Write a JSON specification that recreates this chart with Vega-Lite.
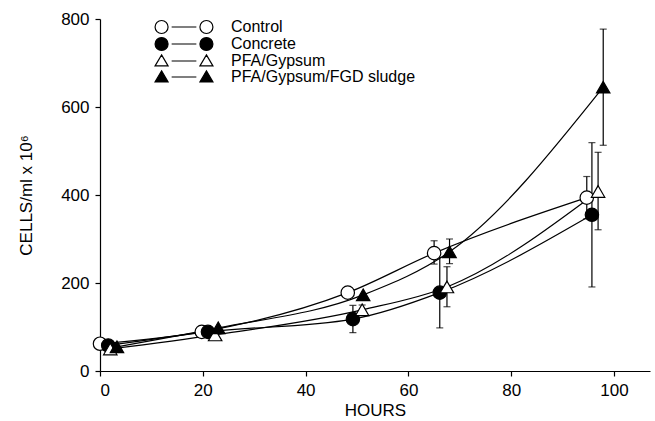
{
  "$schema": "https://vega.github.io/schema/vega-lite/v6.json",
  "width": 550,
  "height": 352,
  "autosize": "none",
  "padding": {"left": 100, "top": 19, "right": 5, "bottom": 50},
  "background": "white",
  "config": {
    "view": {"stroke": null},
    "font": "Liberation Sans",
    "axis": {
      "grid": false,
      "domainColor": "black",
      "tickColor": "black",
      "labelColor": "black",
      "titleColor": "black",
      "labelFont": "Liberation Sans",
      "titleFont": "Liberation Sans",
      "labelFontSize": 17,
      "titleFontSize": 17,
      "titleFontWeight": "normal",
      "tickSize": 5,
      "labelPadding": 6,
      "domainWidth": 1.2,
      "tickWidth": 1.2
    }
  },
  "data": {
    "values": [
      {"series": "Control", "hours": 0, "cells": 62},
      {"series": "Control", "hours": 19.8, "cells": 89},
      {"series": "Control", "hours": 48.2, "cells": 178},
      {"series": "Control", "hours": 65, "cells": 268, "lo": 243, "hi": 296},
      {"series": "Control", "hours": 94.7, "cells": 394, "lo": 346, "hi": 442},
      {"series": "Concrete", "hours": 1.6, "cells": 58},
      {"series": "Concrete", "hours": 21, "cells": 89},
      {"series": "Concrete", "hours": 49.2, "cells": 118, "lo": 87, "hi": 149},
      {"series": "Concrete", "hours": 66.1, "cells": 178, "lo": 98, "hi": 258},
      {"series": "Concrete", "hours": 95.7, "cells": 355, "lo": 191, "hi": 519},
      {"series": "PFA/Gypsum", "hours": 2, "cells": 50},
      {"series": "PFA/Gypsum", "hours": 22.4, "cells": 82},
      {"series": "PFA/Gypsum", "hours": 51, "cells": 139, "lo": 128, "hi": 150},
      {"series": "PFA/Gypsum", "hours": 67.5, "cells": 191, "lo": 146, "hi": 237},
      {"series": "PFA/Gypsum", "hours": 96.9, "cells": 408, "lo": 321, "hi": 497},
      {"series": "PFA/Gypsum/FGD sludge", "hours": 3.3, "cells": 55},
      {"series": "PFA/Gypsum/FGD sludge", "hours": 23, "cells": 98},
      {"series": "PFA/Gypsum/FGD sludge", "hours": 51.2, "cells": 173},
      {"series": "PFA/Gypsum/FGD sludge", "hours": 68, "cells": 271, "lo": 244, "hi": 300},
      {"series": "PFA/Gypsum/FGD sludge", "hours": 97.9, "cells": 645, "lo": 513, "hi": 777}
    ]
  },
  "resolve": {"scale": {"shape": "independent"}},
  "layer": [
    {
      "mark": {"type": "line", "interpolate": "monotone", "color": "black", "strokeWidth": 1.2},
      "encoding": {
        "x": {"field": "hours", "type": "quantitative", "scale": {"domain": [0, 107], "nice": false}, "axis": {"values": [0, 20, 40, 60, 80, 100], "title": "HOURS", "titlePadding": 4}},
        "y": {"field": "cells", "type": "quantitative", "scale": {"domain": [0, 800], "nice": false}, "axis": {"values": [0, 200, 400, 600, 800], "title": "CELLS/ml x 10⁶", "titlePadding": 25}},
        "detail": {"field": "series"}
      }
    },
    {
      "transform": [{"filter": "isValid(datum.lo)"}],
      "mark": {"type": "rule", "color": "black", "strokeWidth": 1.2},
      "encoding": {
        "x": {"field": "hours", "type": "quantitative"},
        "y": {"field": "lo", "type": "quantitative"},
        "y2": {"field": "hi"}
      }
    },
    {
      "transform": [{"filter": "isValid(datum.lo)"}],
      "mark": {"type": "tick", "orient": "horizontal", "size": 7, "thickness": 1.2, "color": "black"},
      "encoding": {
        "x": {"field": "hours", "type": "quantitative"},
        "y": {"field": "lo", "type": "quantitative"}
      }
    },
    {
      "transform": [{"filter": "isValid(datum.hi)"}],
      "mark": {"type": "tick", "orient": "horizontal", "size": 7, "thickness": 1.2, "color": "black"},
      "encoding": {
        "x": {"field": "hours", "type": "quantitative"},
        "y": {"field": "hi", "type": "quantitative"}
      }
    },
    {
      "mark": {"type": "point", "filled": true, "opacity": 1, "stroke": "black", "strokeWidth": 1.2, "size": 180},
      "encoding": {
        "x": {"field": "hours", "type": "quantitative"},
        "y": {"field": "cells", "type": "quantitative"},
        "shape": {
          "field": "series",
          "type": "nominal",
          "scale": {"domain": ["Control", "Concrete", "PFA/Gypsum", "PFA/Gypsum/FGD sludge"], "range": ["circle", "circle", "triangle-up", "triangle-up"]},
          "legend": null
        },
        "fill": {
          "field": "series",
          "type": "nominal",
          "scale": {"domain": ["Control", "Concrete", "PFA/Gypsum", "PFA/Gypsum/FGD sludge"], "range": ["white", "black", "white", "black"]},
          "legend": null
        }
      }
    },
    {
      "mark": {"type": "point", "filled": true, "opacity": 0, "size": 10},
      "encoding": {
        "x": {"field": "hours", "type": "quantitative"},
        "y": {"field": "cells", "type": "quantitative"},
        "shape": {
          "field": "series",
          "type": "nominal",
          "scale": {
            "domain": ["Control", "Concrete", "PFA/Gypsum", "PFA/Gypsum/FGD sludge"],
            "range": [
              "M-4.45,0A1,1,0,1,0,-2.45,0A1,1,0,1,0,-4.45,0ZM-1.9,0L1.9,0M2.45,0A1,1,0,1,0,4.45,0A1,1,0,1,0,2.45,0Z",
              "M-4.45,0A1,1,0,1,0,-2.45,0A1,1,0,1,0,-4.45,0ZM-1.9,0L1.9,0M2.45,0A1,1,0,1,0,4.45,0A1,1,0,1,0,2.45,0Z",
              "M-3.45,-0.95L-2.45,0.75L-4.45,0.75ZM-1.9,0L1.9,0M3.45,-0.95L4.45,0.75L2.45,0.75Z",
              "M-3.45,-0.95L-2.45,0.75L-4.45,0.75ZM-1.9,0L1.9,0M3.45,-0.95L4.45,0.75L2.45,0.75Z"
            ]
          },
          "legend": {
            "title": null,
            "orient": "none",
            "legendX": 76,
            "legendY": 0,
            "padding": 0,
            "symbolSize": 169,
            "labelOffset": 39,
            "labelFont": "Liberation Sans",
            "labelFontSize": 16,
            "labelColor": "black",
            "labelLimit": 0,
            "rowPadding": -1,
            "symbolOpacity": 1,
            "symbolStrokeColor": "black",
            "symbolStrokeWidth": 1.2,
            "encoding": {
              "symbols": {
                "fill": {"value": {"expr": "(datum.value === 'Concrete' || datum.value === 'PFA/Gypsum/FGD sludge') ? 'black' : 'white'"}},
                "stroke": {"value": "black"},
                "strokeWidth": {"value": 1.2},
                "opacity": {"value": 1}
              }
            }
          }
        }
      }
    }
  ]
}
